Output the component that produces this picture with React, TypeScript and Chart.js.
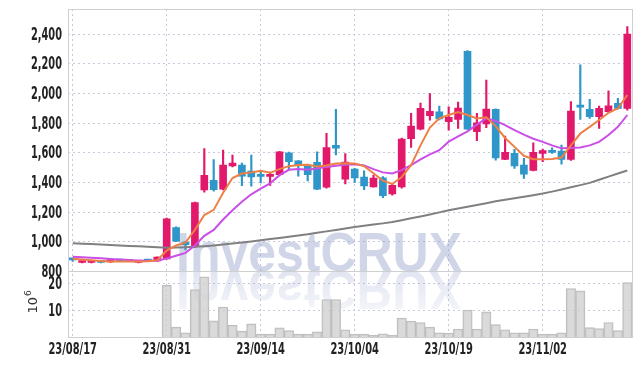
import React, { useEffect, useRef } from 'react';
import { Chart, registerables } from 'chart.js';

Chart.register(...registerables);

const dates = [
  '23/08/17', '23/08/18', '23/08/21', '23/08/22', '23/08/23', '23/08/24', '23/08/25', '23/08/28', '23/08/29', '23/08/30',
  '23/08/31', '23/09/01', '23/09/04', '23/09/05', '23/09/06', '23/09/07', '23/09/08', '23/09/11', '23/09/12', '23/09/13',
  '23/09/14', '23/09/15', '23/09/18', '23/09/19', '23/09/20', '23/09/21', '23/09/22', '23/09/25', '23/09/26', '23/09/27',
  '23/10/04', '23/10/05', '23/10/06', '23/10/10', '23/10/11', '23/10/12', '23/10/13', '23/10/16', '23/10/17', '23/10/18',
  '23/10/19', '23/10/20', '23/10/23', '23/10/24', '23/10/25', '23/10/26', '23/10/27', '23/10/30', '23/10/31', '23/11/01',
  '23/11/02', '23/11/03', '23/11/06', '23/11/07', '23/11/08', '23/11/09', '23/11/10', '23/11/13', '23/11/14', '23/11/15',
];

const opens = [
  882, 860, 860, 866, 864, 872, 871, 860, 872, 870,
  885, 1095, 998, 966, 1350, 1415, 1355, 1512, 1517, 1476,
  1455, 1440, 1452, 1600, 1545, 1512, 1535, 1368, 1650, 1422,
  1490, 1437, 1370, 1431, 1322, 1370, 1695, 1760, 1850, 1877,
  1810, 1825, 2284, 1742, 1795, 1893, 1555, 1596, 1517, 1481,
  1595, 1617, 1611, 1555, 1922, 1893, 1844, 1877, 1934, 1900,
];
const highs = [
  886, 868, 867, 870, 876, 876, 874, 870, 876, 898,
  1160, 1100, 1002, 1268, 1628, 1555, 1618, 1585, 1530, 1584,
  1478, 1470, 1610, 1605, 1548, 1520, 1606, 1731, 1893, 1595,
  1495, 1478, 1449, 1440, 1388, 1700, 1866, 1935, 2000, 1915,
  1910, 1942, 2290, 1866, 2091, 1897, 1713, 1623, 1562, 1667,
  1625, 1633, 1652, 1945, 2193, 1961, 1915, 2018, 1968, 2452,
];
const lows = [
  868, 858, 857, 858, 860, 868, 865, 857, 868, 868,
  883, 1000, 945, 962, 1335, 1342, 1350, 1505, 1378, 1375,
  1397, 1380, 1448, 1485, 1442, 1410, 1352, 1362, 1585, 1390,
  1400, 1352, 1368, 1298, 1315, 1362, 1636, 1755, 1820, 1822,
  1753, 1765, 1758, 1681, 1770, 1550, 1553, 1494, 1427, 1478,
  1540, 1595, 1523, 1548, 1825, 1832, 1765, 1870, 1895, 1888,
];
const closes = [
  878, 866, 866, 861, 871, 870, 866, 866, 869, 897,
  1155, 1004, 980, 1264, 1448, 1352, 1517, 1530, 1442, 1437,
  1440, 1455, 1606, 1540, 1515, 1452, 1355, 1636, 1632, 1537,
  1431, 1377, 1429, 1310, 1381, 1692, 1780, 1900, 1880, 1828,
  1840, 1902, 1760, 1803, 1895, 1566, 1603, 1512, 1456, 1603,
  1615, 1602, 1555, 1881, 1908, 1844, 1900, 1917, 1900, 2400,
];

// volume in millions of shares
const volumes = [
  0, 0, 0, 0, 0, 0, 0, 0, 0, 0,
  19.3, 3.7, 1.6, 17.7, 22.5, 6.0, 11.2, 4.4, 2.2, 4.9,
  1.1, 1.1, 3.4, 2.4, 1.1, 1.1, 1.9, 14.0, 14.0, 2.7,
  1.1, 1.1, 0.7, 1.2, 0.7, 7.1, 5.9, 5.4, 3.7, 1.6,
  1.5, 3.0, 10.1, 3.0, 9.4, 4.6, 2.7, 1.6, 1.6, 3.0,
  1.1, 1.1, 1.6, 18.1, 17.2, 3.5, 3.1, 5.4, 2.4, 20.3,
];

const maShort = [
  885, 880, 875, 870, 866, 866, 866, 867, 868, 875,
  940, 975, 995, 1080, 1180, 1215, 1330, 1430, 1460, 1468,
  1478, 1465, 1490, 1510, 1518, 1520, 1508, 1515, 1528, 1530,
  1528, 1510, 1462, 1412, 1390, 1437, 1517, 1650, 1770, 1832,
  1855, 1875, 1855, 1832, 1840, 1780, 1700, 1640, 1580, 1557,
  1557, 1558, 1568, 1650, 1730, 1775, 1821, 1870, 1900, 1990,
];
const maMid = [
  898, 895, 892, 888, 884, 880, 877, 874, 872, 872,
  888, 906, 925, 975, 1040, 1080, 1150, 1212, 1270, 1320,
  1359, 1393, 1449, 1485, 1490, 1485, 1494, 1505, 1512, 1520,
  1523, 1515, 1490, 1468, 1460, 1483, 1517, 1555, 1590, 1618,
  1675, 1710, 1745, 1790, 1832, 1815, 1787, 1753, 1722, 1695,
  1674, 1650, 1630, 1633, 1636, 1650, 1674, 1720, 1775, 1855,
];
const maLong = [
  990, 987, 984, 981, 978, 975, 972, 969, 966, 963,
  960, 961, 963, 966, 970, 975, 981, 988, 995, 1002,
  1010, 1018, 1026, 1034, 1042, 1050, 1060, 1070, 1080, 1090,
  1100, 1108, 1116, 1124, 1133, 1145, 1158, 1171, 1184, 1198,
  1212, 1224, 1236, 1248, 1260, 1273, 1283, 1293, 1303, 1314,
  1325, 1338, 1352, 1367, 1382, 1397, 1418, 1439, 1460, 1481,
];

const priceTicks = [800, 1000, 1200, 1400, 1600, 1800, 2000, 2200, 2400];
const volumeTicks = [10, 20];
const dateTickEvery = 10;
const watermark = 'InvestCRUX';
const volumeUnit = ['10', '6'];

const UP = '#e2186b';
const DOWN = '#2e96c8';
const GRID = '#c6c9dc';
const LABEL_FAMILY = '"DejaVu Sans Condensed", "DejaVu Sans", sans-serif';

export default function App() {
  const ref = useRef<HTMLCanvasElement>(null);

  useEffect(() => {
    const colors = closes.map((c, i) => (c >= opens[i] ? UP : DOWN));

    const fixPad = (s: any) => {
      s.paddingTop = 0;
      s.paddingBottom = 0;
      s.paddingLeft = 0;
      s.paddingRight = 0;
    };

    const frame = {
      id: 'frame',
      beforeDatasetsDraw(chart: any) {
        const { ctx } = chart;
        const y = chart.scales.y;
        ctx.save();
        ctx.font = 'bold 56px "Liberation Sans", Arial, sans-serif';
        const w = ctx.measureText(watermark).width;
        const sx = 286 / w;
        ctx.translate(176, y.bottom);
        ctx.scale(sx, 1);
        ctx.textBaseline = 'alphabetic';
        ctx.fillStyle = 'rgba(150,163,205,0.45)';
        ctx.fillText(watermark, 0, 0);
        ctx.scale(1, -1);
        const g = ctx.createLinearGradient(0, 0, 0, -42);
        g.addColorStop(0, 'rgba(150,163,205,0.28)');
        g.addColorStop(1, 'rgba(150,163,205,0.10)');
        ctx.fillStyle = g;
        ctx.fillText(watermark, 0, 0);
        ctx.restore();
      },
      afterDraw(chart: any) {
        const { ctx, chartArea } = chart;
        const x = chart.scales.x;
        const y = chart.scales.y;
        const yv = chart.scales.yv;
        ctx.save();
        ctx.strokeStyle = '#cfcfcf';
        ctx.lineWidth = 1;
        const L = Math.round(chartArea.left) + 0.5;
        const W = Math.round(chartArea.right - chartArea.left);
        ctx.strokeRect(L, Math.round(y.top) + 0.5, W, Math.round(y.bottom - y.top));
        ctx.strokeRect(L, Math.round(yv.top) + 0.5, W, Math.round(yv.bottom - yv.top));

        // tick labels (condensed)
        ctx.fillStyle = '#222';
        ctx.textBaseline = 'middle';
        ctx.font = 'bold 17px ' + LABEL_FAMILY;
        const ky = 31 / ctx.measureText('2,400').width;
        const drawY = (txt: string, py: number) => {
          ctx.save();
          ctx.translate(62, py + 1);
          ctx.scale(ky, 1);
          ctx.textAlign = 'right';
          ctx.fillText(txt, 0, 0);
          ctx.restore();
        };
        priceTicks.forEach((v) => drawY(v.toLocaleString('en-US'), y.getPixelForValue(v)));
        volumeTicks.forEach((v) => drawY(String(v), yv.getPixelForValue(v)));

        ctx.font = 'bold 16px ' + LABEL_FAMILY;
        const kx = 48.5 / ctx.measureText('23/08/17').width;
        dates.forEach((d, i) => {
          if (i % dateTickEvery !== 0) return;
          ctx.save();
          ctx.translate(x.getPixelForValue(i), 350);
          ctx.scale(kx, 1);
          ctx.textAlign = 'center';
          ctx.fillText(d, 0, 0);
          ctx.restore();
        });

        // volume unit label
        ctx.translate(37, (yv.top + yv.bottom) / 2 - 1);
        ctx.rotate(-Math.PI / 2);
        ctx.fillStyle = '#333';
        ctx.font = '13px "DejaVu Sans", sans-serif';
        ctx.textBaseline = 'alphabetic';
        ctx.textAlign = 'left';
        const w = ctx.measureText(volumeUnit[0]).width;
        ctx.fillText(volumeUnit[0], -w / 2 - 2, 0);
        ctx.font = '9px "DejaVu Sans", sans-serif';
        ctx.fillText(volumeUnit[1], w / 2 - 1, -6);
        ctx.restore();
      },
    };

    const chart = new Chart(ref.current as HTMLCanvasElement, {
      type: 'bar',
      data: {
        labels: dates,
        datasets: [
          { type: 'line', data: maShort, borderColor: '#ee7f45', borderWidth: 2, pointRadius: 0, yAxisID: 'y', order: 0 } as any,
          { type: 'line', data: maMid, borderColor: '#c94fe6', borderWidth: 2, pointRadius: 0, yAxisID: 'y', order: 0 } as any,
          { type: 'line', data: maLong, borderColor: '#808080', borderWidth: 2, pointRadius: 0, yAxisID: 'y', order: 0 } as any,
          { type: 'bar', data: opens.map((o, i) => [o, closes[i]]), backgroundColor: colors, barThickness: 7, minBarLength: 2, grouped: false, yAxisID: 'y', order: 1 } as any,
          { type: 'bar', data: lows.map((l, i) => [l, highs[i]]), backgroundColor: colors, barThickness: 1.5, grouped: false, yAxisID: 'y', order: 2 } as any,
          { type: 'bar', data: volumes, backgroundColor: 'rgba(205,205,205,0.75)', borderColor: '#bdbdbd', borderWidth: 1, barPercentage: 1, categoryPercentage: 1, grouped: false, yAxisID: 'yv', order: 3 } as any,
        ],
      },
      options: {
        animation: false,
        responsive: true,
        maintainAspectRatio: false,
        layout: { padding: { top: 9, right: 10, left: 0, bottom: 0 } },
        plugins: { legend: { display: false }, tooltip: { enabled: false } },
        scales: {
          x: {
            offset: true,
            grid: {
              offset: false,
              drawTicks: false,
              color: (ctx: any) => (ctx.index % dateTickEvery === 0 ? GRID : 'rgba(0,0,0,0)'),
            },
            border: { display: false, dash: [2, 3] },
            ticks: { display: false, autoSkip: false, maxRotation: 0 },
            afterFit: (s: any) => { s.height = 29; fixPad(s); },
          },
          yv: {
            type: 'linear',
            position: 'left',
            stack: 'panels',
            stackWeight: 1,
            min: 0,
            max: 24.5,
            afterBuildTicks: (s: any) => { s.ticks = volumeTicks.map((v) => ({ value: v })); },
            grid: { drawTicks: false, color: GRID },
            border: { display: false, dash: [2, 3] },
            ticks: { display: false },
            afterFit: (s: any) => { s.width = 68; fixPad(s); },
          },
          y: {
            type: 'linear',
            position: 'left',
            stack: 'panels',
            stackWeight: 4,
            min: 800,
            max: 2570,
            afterBuildTicks: (s: any) => { s.ticks = priceTicks.map((v) => ({ value: v })); },
            grid: { drawTicks: false, color: GRID },
            border: { display: false, dash: [2, 3] },
            ticks: { display: false },
            afterFit: (s: any) => { s.width = 68; fixPad(s); },
          },
        } as any,
      },
      plugins: [frame],
    });
    return () => chart.destroy();
  }, []);

  return (
    <div style={{ position: 'fixed', left: 0, top: 0, width: 642, height: 366, background: '#fff' }}>
      <canvas ref={ref} />
    </div>
  );
}
